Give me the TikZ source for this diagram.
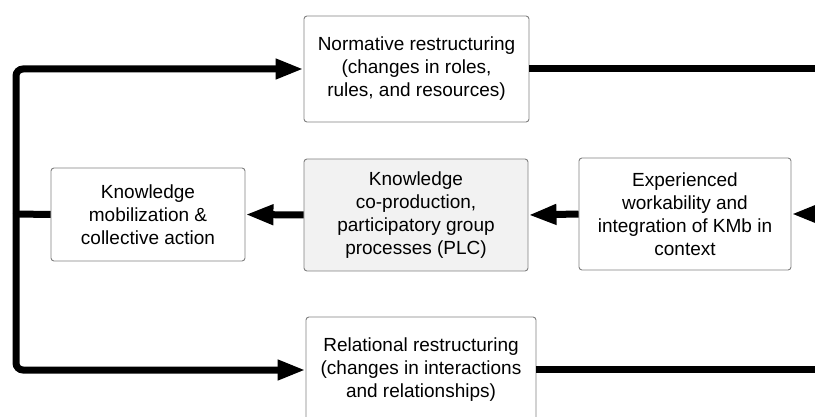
\documentclass[tikz,border=0pt]{standalone}
\usepackage{fontspec}
\setmainfont{Liberation Sans}
\usetikzlibrary{arrows.meta}
\begin{document}
\begin{tikzpicture}[x=1pt,y=-1pt,
  box/.style={draw=black!50, line width=0.9pt, rounded corners=3pt, fill=white,
    align=center, inner sep=0pt,
    font=\fontsize{19}{23}\selectfont},
  shaded/.style={box, fill=gray!10!blue!2!white},
  link/.style={line width=7pt},
  flow/.style={link, -{Triangle[length=28pt,width=19pt]}}
]
\useasboundingbox (0,0) rectangle (815,417);
\clip (0,0) rectangle (815,417);

% boxes
\node[box, minimum width=225pt, minimum height=106pt] (norm) at (416.5,69)
  {Normative restructuring\\(changes in roles,\\rules, and resources)};
\node[box, minimum width=194pt, minimum height=93pt] (mob) at (148,214.5)
  {Knowledge\\mobilization \&\\collective action};
\node[shaded, minimum width=224pt, minimum height=112pt, fill=black!5] (coprod) at (416,215)
  {Knowledge\\co-production,\\participatory group\\processes (PLC)};
\node[box, minimum width=212pt, minimum height=112pt] (exp) at (685,214)
  {Experienced\\workability and\\integration of KMb in\\context};
\node[box, minimum width=230pt, minimum height=106pt] (rel) at (421,370)
  {Relational restructuring\\(changes in interactions\\and relationships)};

% free ends of the loop
\coordinate (bus) at (16,214);
\coordinate (outtop) at (840,69);
\coordinate (outmid) at (840,214);
\coordinate (outbot) at (840,369);

% left distribution bus
\draw[link] (mob.west) -- (bus);
\draw[flow, rounded corners=7pt] (bus) |- (norm.west);
\draw[flow, rounded corners=7pt] (bus) |- (rel.west);

% middle chain
\draw[flow] (exp.west) -- (coprod.east);
\draw[flow] (coprod.west) -- (mob.east);

% right side
\draw[link] (norm.east) -- (outtop);
\draw[link] (rel.east |- outbot) -- (outbot);
\draw[flow] (outmid) -- (exp.east);
\end{tikzpicture}
\end{document}
